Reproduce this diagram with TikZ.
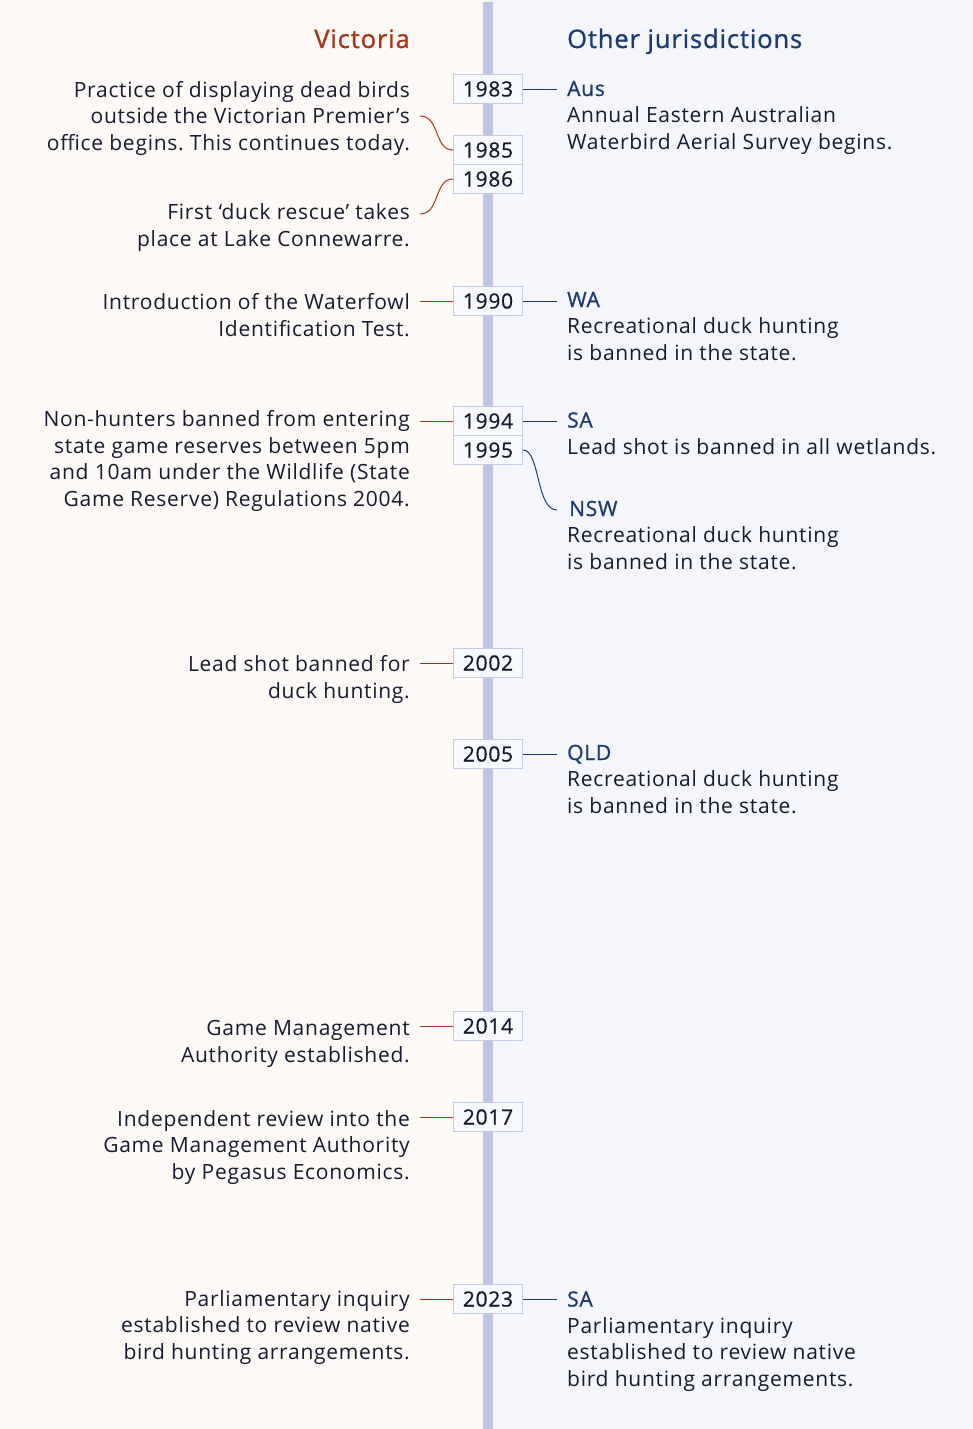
\documentclass[tikz,border=0pt]{standalone}
\usepackage{fontspec}
\setmainfont{Open Sans}[LetterSpace=3.5]
\newfontfamily\medfont{Open Sans}[LetterSpace=3.5,FakeBold=1]
\newfontfamily\yearfont{Open Sans}[LetterSpace=3.5,FakeBold=0.6]
\frenchspacing
\definecolor{bgL}{HTML}{FDF9F6}
\definecolor{bgR}{HTML}{F4F6FB}
\definecolor{barC}{HTML}{BDC5E2}
\definecolor{boxBorder}{HTML}{C3CAE6}
\definecolor{boxFill}{HTML}{F8F9FD}
\definecolor{vicRed}{HTML}{A3361A}
\definecolor{othBlue}{HTML}{1D3A70}
\definecolor{txt}{HTML}{161A2C}
\tikzset{
  yearbox/.style={draw=boxBorder, line width=1.3pt, fill=boxFill, minimum width=69pt, minimum height=29pt, inner sep=0pt, font=\yearfont\fontsize{21}{24}\selectfont, text=txt},
  ltext/.style={anchor=base east, align=right, inner sep=0pt, font=\fontsize{21}{26.5}\selectfont, text=txt},
  rtext/.style={anchor=base west, align=left, inner sep=0pt, font=\fontsize{21}{26.5}\selectfont, text=txt},
  head/.style={inner sep=0pt, font=\medfont\fontsize{25.5}{28}\selectfont},
  redline/.style={draw=vicRed, line width=1pt},
  blueline/.style={draw=othBlue, line width=1pt},
}
\newcommand{\jur}[1]{{\medfont\textcolor{othBlue}{#1}}}
\begin{document}
\begin{tikzpicture}[x=1pt,y=-1pt]
\useasboundingbox (0,0) rectangle (973,1429);
\fill[bgL] (0,0) rectangle (488,1429);
\fill[bgR] (488,0) rectangle (973,1429);
\fill[barC] (483,2) rectangle (493,1429);

\node[head, anchor=base east, text=vicRed] (hv) at (410,48) {Victoria};
\node[head, anchor=base west, text=othBlue] (ho) at (567,48) {Other jurisdictions};

% year boxes
\node[yearbox] (y1983) at (488,89) {1983};
\node[yearbox] (y1985) at (488,150) {1985};
\node[yearbox] (y1986) at (488,179) {1986};
\node[yearbox] (y1990) at (488,301) {1990};
\node[yearbox] (y1994) at (488,421) {1994};
\node[yearbox] (y1995) at (488,450) {1995};
\node[yearbox] (y2002) at (488,663) {2002};
\node[yearbox] (y2005) at (488,754) {2005};
\node[yearbox] (y2014) at (488,1026) {2014};
\node[yearbox] (y2017) at (488,1117) {2017};
\node[yearbox] (y2023) at (488,1299) {2023};

% left texts (anchored at last line baseline)
\node[ltext] (l1985) at (410,150) {Practice of displaying dead birds\\outside the Victorian Premier's\\office begins. This continues today.};
\node[ltext] (l1986) at (410,246) {First ‘duck rescue’ takes\\place at Lake Connewarre.};
\node[ltext] (l1990) at (410,336) {Introduction of the Waterfowl\\Identification Test.};
\node[ltext] (l1994) at (410,506) {Non-hunters banned from entering\\state game reserves between 5pm\\and 10am under the Wildlife (State\\Game Reserve) Regulations 2004.};
\node[ltext] (l2002) at (410,698) {Lead shot banned for\\duck hunting.};
\node[ltext] (l2014) at (410,1062) {Game Management\\Authority established.};
\node[ltext] (l2017) at (410,1179) {Independent review into the\\Game Management Authority\\by Pegasus Economics.};
\node[ltext] (l2023) at (410,1359) {Parliamentary inquiry\\established to review native\\bird hunting arrangements.};

% right texts
\node[rtext] (r1983) at (567,149) {\jur{Aus}\\Annual Eastern Australian\\Waterbird Aerial Survey begins.};
\node[rtext] (r1990) at (567,360) {\jur{WA}\\Recreational duck hunting\\is banned in the state.};
\node[rtext] (r1994) at (567,454) {\jur{SA}\\Lead shot is banned in all wetlands.};
\node[rtext] (r1995) at (567,569) {\hspace*{2pt}\jur{NSW}\\Recreational duck hunting\\is banned in the state.};
\node[rtext] (r2005) at (567,813) {\jur{QLD}\\Recreational duck hunting\\is banned in the state.};
\node[rtext] (r2023) at (567,1386) {\jur{SA}\\Parliamentary inquiry\\established to review native\\bird hunting arrangements.};

% connector ends
\coordinate (cl1985) at (420,116);
\coordinate (cl1986) at (420,214);
\coordinate (cl1990) at (420,301);
\coordinate (cl1994) at (420,421);
\coordinate (cl2002) at (420,663);
\coordinate (cl2014) at (420,1026);
\coordinate (cl2017) at (420,1117);
\coordinate (cl2023) at (420,1299);
\coordinate (cr1983) at (557,89);
\coordinate (cr1990) at (557,301);
\coordinate (cr1994) at (557,421);
\coordinate (cr1995) at (557,510);
\coordinate (cr2005) at (557,754);
\coordinate (cr2023) at (557,1299);

\draw[redline] (cl1985) .. controls (440,116) and (434,150) .. (y1985.west);
\draw[redline] (y1986.west) .. controls (434,179) and (440,214) .. (cl1986);
\draw[redline] (cl1990) -- (y1990.west);
\draw[redline] (cl1994) -- (y1994.west);
\draw[redline] (cl2002) -- (y2002.west);
\draw[redline] (cl2014) -- (y2014.west);
\draw[redline] (cl2017) -- (y2017.west);
\draw[redline] (cl2023) -- (y2023.west);

\draw[blueline] (y1983.east) -- (cr1983);
\draw[blueline] (y1990.east) -- (cr1990);
\draw[blueline] (y1994.east) -- (cr1994);
\draw[blueline] (y1995.east) .. controls (540,450) and (536,510) .. (cr1995);
\draw[blueline] (y2005.east) -- (cr2005);
\draw[blueline] (y2023.east) -- (cr2023);
\end{tikzpicture}
\end{document}
